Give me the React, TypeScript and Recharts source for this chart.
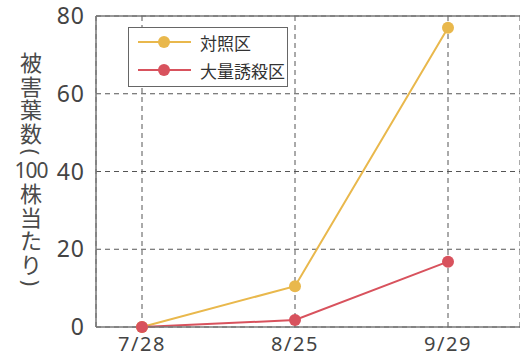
import { CartesianGrid, Label, Line, LineChart, ReferenceLine, XAxis, YAxis } from "recharts";

const dates = ["7/28", "8/25", "9/29"];
const controlPlot = [0, 10.5, 77];
const massTrapPlot = [0, 1.8, 16.8];
const yTicks = [0, 20, 40, 60, 80];
const yLabelChars = ["被", "害", "葉", "数", "(", "100", "株", "当", "た", "り", ")"];

const ORANGE = "#e9b84c";
const RED = "#d8525d";
const FONT = "'Noto Sans CJK JP', 'Noto Sans', sans-serif";
const NUM_FONT = "'Noto Sans', 'Noto Sans CJK JP', sans-serif";

const data = dates.map((d, i) => ({ date: d, control: controlPlot[i], trap: massTrapPlot[i] }));

// vertical title: kanji take a full step, parens are turned sideways and take less
function YTitle(props: any) {
  const vb = props.viewBox || { x: 0, y: 16, width: 96, height: 311 };
  const cx = vb.x + 31;
  let y = vb.y + 45;
  const rows = yLabelChars.map((c) => {
    const paren = c === "(" || c === ")";
    const step = paren ? 15 : c === "100" ? 22 : 23.5;
    const pos = y + (paren ? -3 : 0);
    y += step;
    return { c, pos, paren };
  });
  return (
    <g fill="#4a4a4a">
      <text textAnchor="middle" dominantBaseline="central" fontSize={22} fontFamily={FONT}>
        {rows
          .filter((r) => !r.paren)
          .map((r, i) => (
            <tspan
              key={i}
              x={cx}
              y={r.pos}
              fontSize={r.c === "100" ? 21 : 22}
              fontFamily={r.c === "100" ? NUM_FONT : FONT}
              letterSpacing={r.c === "100" ? -1 : 0}
            >
              {r.c}
            </tspan>
          ))}
      </text>
      {rows
        .filter((r) => r.paren)
        .map((r, i) => (
          <text
            key={"p" + i}
            x={cx}
            y={r.pos}
            transform={`rotate(90 ${cx} ${r.pos})`}
            textAnchor="middle"
            dominantBaseline="central"
            fontSize={21}
            fontFamily={NUM_FONT}
          >
            {r.c}
          </text>
        ))}
    </g>
  );
}

function LegendBox() {
  const rows = [
    { name: "対照区", color: ORANGE },
    { name: "大量誘殺区", color: RED },
  ];
  return (
    <svg width={160} height={60} style={{ position: "absolute", left: 128, top: 27 }}>
      <rect x={0.5} y={0.5} width={159} height={59} fill="#fff" stroke="#666" />
      {rows.map((r, i) => (
        <g key={r.name}>
          <line x1={10} x2={63} y1={15 + i * 28} y2={15 + i * 28} stroke={r.color} strokeWidth={2} />
          <circle cx={36} cy={15 + i * 28} r={6} fill={r.color} />
          <text x={72} y={15 + i * 28} dominantBaseline="central" fontSize={17} fill="#333" fontFamily={FONT}>
            {r.name}
          </text>
        </g>
      ))}
    </svg>
  );
}

export default function App() {
  return (
    <div style={{ position: "absolute", left: 0, top: 0, width: 520, height: 354, background: "#fff" }}>
      <LineChart width={520} height={354} data={data} margin={{ top: 16, right: 0, bottom: 0, left: 0 }}>
        <CartesianGrid stroke="#555" strokeDasharray="5 4" strokeWidth={1} />
        <XAxis
          dataKey="date"
          height={27}
          padding={{ left: 46, right: 72 }}
          tickLine={false}
          axisLine={{ stroke: "#777", strokeWidth: 1.5 }}
          tick={{ fill: "#444", fontSize: 20, fontFamily: NUM_FONT, letterSpacing: 1.5 }}
          tickMargin={4}
        />
        <YAxis
          width={96}
          domain={[0, 80]}
          ticks={yTicks}
          tickLine={false}
          tickSize={0}
          tickMargin={11}
          axisLine={{ stroke: "#777", strokeWidth: 1.5 }}
          tick={{ fill: "#444", fontSize: 23, fontFamily: NUM_FONT, letterSpacing: 1 }}
        >
          <Label content={YTitle} />
        </YAxis>
        <ReferenceLine y={80} stroke="#777" strokeWidth={1.5} />
        <Line
          dataKey="control"
          name="対照区"
          stroke={ORANGE}
          strokeWidth={2}
          dot={{ r: 6, fill: ORANGE, stroke: ORANGE, strokeWidth: 0 }}
          isAnimationActive={false}
        />
        <Line
          dataKey="trap"
          name="大量誘殺区"
          stroke={RED}
          strokeWidth={2}
          dot={{ r: 6, fill: RED, stroke: RED, strokeWidth: 0 }}
          isAnimationActive={false}
        />
      </LineChart>
      <LegendBox />
    </div>
  );
}
